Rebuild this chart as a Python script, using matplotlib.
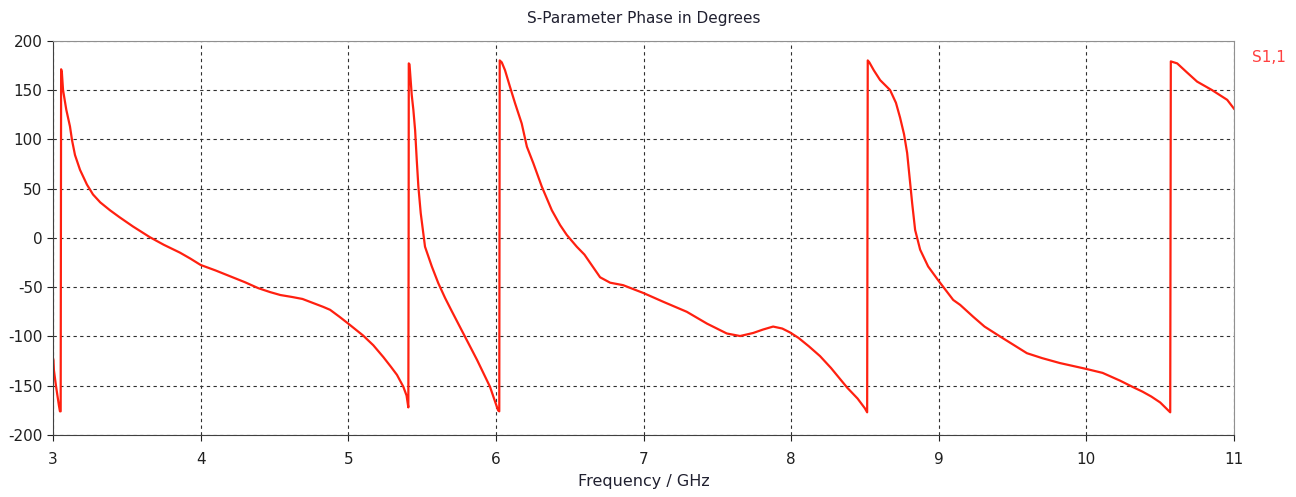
import matplotlib
matplotlib.use('Agg')
import matplotlib.pyplot as plt

## S1,1 phase, frequency in GHz and phase in degrees.
## Wraps at +/-180 are given as two points at almost the same frequency.

freq = [3.000, 3.003, 3.006, 3.020, 3.040, 3.047, 3.052, 3.055, 3.060, 3.068,
        3.090, 3.115, 3.129, 3.149, 3.183, 3.230, 3.271, 3.320, 3.386, 3.450,
        3.542, 3.600, 3.657, 3.750, 3.860, 3.930,
        4.000, 4.100, 4.200, 4.300, 4.390, 4.470, 4.540, 4.620, 4.690, 4.760,
        4.830, 4.877, 4.940, 5.000, 5.050, 5.100, 5.170, 5.238, 5.290, 5.330,
        5.373, 5.395, 5.407, 5.409, 5.410, 5.415, 5.419, 5.430, 5.441, 5.453,
        5.464, 5.475, 5.491, 5.520, 5.566, 5.610, 5.656, 5.700, 5.778, 5.873,
        5.960, 6.015, 6.023, 6.026, 6.040, 6.062, 6.096, 6.130, 6.175, 6.210,
        6.254, 6.311, 6.379, 6.435, 6.480, 6.548, 6.600, 6.660, 6.706, 6.774,
        6.862, 7.000, 7.133, 7.293, 7.430, 7.564, 7.654, 7.743, 7.810, 7.878,
        7.940, 7.993, 8.050, 8.120, 8.196, 8.270, 8.380, 8.450, 8.500, 8.515,
        8.519, 8.530, 8.560, 8.603, 8.670, 8.710, 8.738, 8.765, 8.786, 8.806,
        8.820, 8.840, 8.874, 8.928, 8.996, 9.098, 9.145, 9.233, 9.310, 9.400,
        9.500, 9.597, 9.700, 9.820, 9.910, 10.000, 10.110, 10.230, 10.310,
        10.380, 10.440, 10.500, 10.568, 10.572, 10.615, 10.680, 10.750,
        10.850, 10.954, 11.000]

phase = [-122, -124, -134, -150, -170, -176, -176, 171, 168, 150,
         130, 113, 99, 84, 69, 54, 44, 36, 28, 21,
         11.5, 6, 0.6, -7, -15, -21,
         -27.5, -33, -39, -45, -51, -55, -58, -60, -62, -66,
         -70, -73, -80, -87, -93, -99, -109, -121, -131, -139,
         -151, -160, -172, 0, 177, 176, 168, 145, 130, 109,
         79, 52, 25, -9, -29, -46, -61, -74, -96.5, -124,
         -151, -175, -176, 180, 178, 170, 153, 136.5, 116, 92.5,
         75.6, 52, 28, 13, 3, -9, -17, -30, -40, -45.5,
         -48, -56, -64.8, -75, -87, -97, -99.6, -96.5, -93, -90,
         -92, -96, -101.5, -110, -120, -132, -152, -163, -173, -177,
         180, 178, 170, 160, 150, 137, 122, 105, 86, 56,
         35, 8, -12, -29, -43, -63, -68, -80, -90, -98.6,
         -108, -117, -122, -127, -130, -133, -137, -145, -151,
         -156, -161, -167, -177, 179, 177, 168, 158.5,
         150, 140, 131]

xticks = [3, 4, 5, 6, 7, 8, 9, 10, 11]
yticks = [-200, -150, -100, -50, 0, 50, 100, 150, 200]

plt.rcParams['font.family'] = ['DejaVu Sans']
plt.rcParams['axes.unicode_minus'] = False

fig = plt.figure(figsize=(12.96, 4.97), dpi=100)
ax = fig.add_axes([53 / 1296, 1 - 435 / 497, 1181 / 1296, 394.3 / 497])

ax.plot(freq, phase, color='#ff2010', linewidth=1.6)

ax.set_xlim(3, 11)
ax.set_ylim(-200, 200)
ax.set_xticks(xticks)
ax.set_yticks(yticks)
ax.tick_params(labelsize=11, colors='#202020', length=4, width=0.8)
ax.tick_params(axis='x', pad=8)

ax.grid(True, color='#303030', linestyle=(0, (3, 3)), linewidth=0.8)

for side in ['left', 'bottom']:
    ax.spines[side].set_color('#404040')
for side in ['top', 'right']:
    ax.spines[side].set_color('#909090')

ax.set_title('S-Parameter Phase in Degrees', fontsize=11, color='#202030', pad=13)
ax.set_xlabel('Frequency / GHz', fontsize=11.5, color='#202030', labelpad=5)

## trace name off to the right, like the original tool does it
fig.text(1252 / 1296, 1 - 58 / 497, 'S1,1', color='#ff4040', fontsize=11,
         va='center', ha='left')

fig.savefig('out.png', dpi=100)
